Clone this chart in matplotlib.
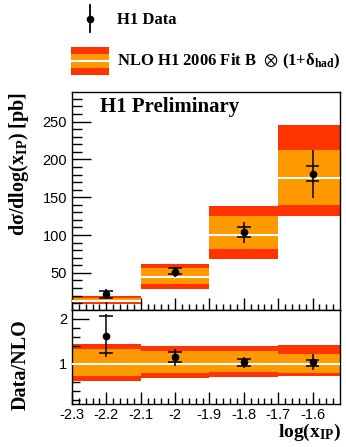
import numpy as np
import matplotlib
matplotlib.use("Agg")
import matplotlib.pyplot as plt
from matplotlib.patches import Rectangle
from matplotlib.lines import Line2D

plt.rcParams['mathtext.fontset'] = 'custom'
plt.rcParams['mathtext.rm'] = 'Liberation Serif:bold'
plt.rcParams['mathtext.it'] = 'Liberation Serif:bold:italic'
plt.rcParams['mathtext.bf'] = 'Liberation Serif:bold'
plt.rcParams['mathtext.fallback'] = 'stix'
plt.rcParams['axes.unicode_minus'] = False

# bins in log(x_IP)
bin_edges = [-2.3, -2.1, -1.9, -1.7, -1.5]
x_points = [-2.2, -2.0, -1.8, -1.6]

# cross section data [pb]
data = [22, 51, 104, 181]
stat_lo = [16.5, 48, 97, 172]
stat_hi = [26.6, 56, 110, 191]
tot_lo = [15.5, 45, 90, 149]
tot_hi = [28.5, 58, 117, 213]

# NLO prediction with scale (orange) and total (red) uncertainty
nlo = [13.5, 45, 100, 176]
nlo_in_lo = [11, 36, 81, 140]
nlo_in_hi = [17.5, 57, 125, 212]
nlo_out_lo = [8.5, 29, 69, 125]
nlo_out_hi = [19.5, 62, 139, 245]

# ratio panel
ratio = [1.63, 1.15, 1.045, 1.03]
r_stat_lo = [1.24, 1.04, 0.96, 0.955]
r_stat_hi = [2.06, 1.26, 1.11, 1.08]
r_tot_lo = [1.15, 0.96, 0.90, 0.85]
r_tot_hi = [2.10, 1.33, 1.16, 1.22]
r_in_lo = [0.73, 0.79, 0.81, 0.79]
r_in_hi = [1.335, 1.28, 1.28, 1.22]
r_out_lo = [0.604, 0.67, 0.70, 0.72]
r_out_hi = [1.447, 1.39, 1.39, 1.41]

x_ticks = [-2.3, -2.2, -2.1, -2.0, -1.9, -1.8, -1.7, -1.6]
x_ticklabels = ['-2.3', '-2.2', '-2.1', '-2', '-1.9', '-1.8', '-1.7', '-1.6']

RED = '#ff3300'
ORANGE = '#ff9900'
SERIF = ['Liberation Serif', 'DejaVu Serif']
SANS = 'Liberation Sans'

W, H = 346, 447
fig = plt.figure(figsize=(W / 100, H / 100), dpi=100)


def fx(px):
    return px / W


def fy(py):
    return 1 - py / H


ax1 = fig.add_axes([fx(72), fy(310), fx(340) - fx(72), fy(92) - fy(310)])
ax2 = fig.add_axes([fx(72), fy(404), fx(340) - fx(72), fy(310) - fy(404)])

edges = np.array(bin_edges)
centers = 0.5 * (edges[:-1] + edges[1:])
widths = np.diff(edges)
hw = 0.02


def draw_panel(ax, c, in_lo, in_hi, out_lo, out_hi, y, s_lo, s_hi, t_lo, t_hi):
    c = np.array(c)
    ax.bar(centers, np.array(out_hi) - np.array(out_lo), bottom=out_lo,
           width=widths, color=RED, linewidth=0, zorder=1)
    ax.bar(centers, np.array(in_hi) - np.array(in_lo), bottom=in_lo,
           width=widths, color=ORANGE, linewidth=0, zorder=2)
    ax.hlines(c, edges[:-1], edges[1:], color='white', lw=1.5, zorder=3)
    ax.vlines(x_points, t_lo, t_hi, color='black', lw=1.1, zorder=4)
    xp = np.array(x_points)
    ax.hlines(s_lo, xp - hw, xp + hw, color='black', lw=1.1, zorder=4)
    ax.hlines(s_hi, xp - hw, xp + hw, color='black', lw=1.1, zorder=4)
    ax.plot(x_points, y, 'o', color='black', ms=4.5, zorder=5)


draw_panel(ax1, nlo, nlo_in_lo, nlo_in_hi, nlo_out_lo, nlo_out_hi,
           data, stat_lo, stat_hi, tot_lo, tot_hi)
draw_panel(ax2, np.ones(4), r_in_lo, r_in_hi, r_out_lo, r_out_hi,
           ratio, r_stat_lo, r_stat_hi, r_tot_lo, r_tot_hi)

for ax in (ax1, ax2):
    ax.set_xlim(-2.3, -1.52)
    ax.set_xticks(x_ticks)
    ax.set_xticks(np.arange(-2.3, -1.52, 0.02), minor=True)
    ax.tick_params(axis='x', which='major', direction='in', length=9, width=1,
                   top=False)
    ax.tick_params(axis='x', which='minor', direction='in', length=4.5, width=1,
                   top=False)
    ax.tick_params(axis='y', which='both', direction='in', right=False, width=1)
    for sp in ax.spines.values():
        sp.set_linewidth(1.0)

ax1.set_xticklabels([])
ax1.set_ylim(1, 289)
ax1.set_yticks([50, 100, 150, 200, 250])
ax1.set_yticks([v for v in range(10, 290, 10) if v % 50], minor=True)
ax1.tick_params(axis='y', which='major', length=14)
ax1.tick_params(axis='y', which='minor', length=7)
ax1.set_yticklabels(['50', '100', '150', '200', '250'], fontfamily=SANS, fontsize=10.5)

ax2.set_ylim(0.1, 2.2)
ax2.set_yticks([1, 2])
ax2.set_yticks([0.2, 0.4, 0.6, 0.8, 1.2, 1.4, 1.6, 1.8], minor=True)
ax2.tick_params(axis='y', which='major', length=12.5)
ax2.tick_params(axis='y', which='minor', length=6)
ax2.set_yticklabels(['1', '2'], fontfamily=SANS, fontsize=10.5)
ax2.set_xticklabels(x_ticklabels, fontfamily=SANS, fontsize=10.5)
ax2.tick_params(axis='x', pad=3)

# labels
fig.text(fx(19), fy(164), 'dσ/dlog(x$_{\\mathrm{IP}}$) [pb]', rotation=90,
         ha='center', va='center', fontfamily=SERIF, fontweight='bold', fontsize=14.5)
fig.text(fx(21), fy(365), 'Data/NLO', rotation=90, ha='center', va='center',
         fontfamily=SERIF, fontweight='bold', fontsize=14.5)
fig.text(fx(341), fy(437), 'log(x$_{\\mathrm{IP}}$)', ha='right', va='baseline',
         fontfamily=SERIF, fontweight='bold', fontsize=14)
ax1.text(fx(100 - 72) / (fx(340) - fx(72)), 0.93, 'H1 Preliminary',
         transform=ax1.transAxes, ha='left', va='center',
         fontfamily=SERIF, fontweight='bold', fontsize=15)

# legend
fig.add_artist(Line2D([fx(90), fx(90)], [fy(5), fy(32)], color='black', lw=1.3))
fig.add_artist(Line2D([fx(90)], [fy(19)], marker='o', color='black', ms=4.5))
fig.text(fx(117), fy(20), 'H1 Data', ha='left', va='center',
         fontfamily=SERIF, fontweight='bold', fontsize=12)
fig.add_artist(Rectangle((fx(71), fy(75)), fx(38), fy(0) - fy(28),
                         transform=fig.transFigure, color=RED, lw=0))
fig.add_artist(Rectangle((fx(71), fy(68)), fx(38), fy(0) - fy(14),
                         transform=fig.transFigure, color=ORANGE, lw=0))
fig.add_artist(Line2D([fx(71), fx(109)], [fy(60.5), fy(60.5)], color='white', lw=1.5))
fig.text(fx(117), fy(61), 'NLO H1 2006 Fit B  $\\otimes$ (1+δ$_{\\mathrm{had}}$)',
         ha='left', va='center', fontfamily=SERIF, fontweight='bold', fontsize=12)

fig.savefig('out.png', dpi=100)
